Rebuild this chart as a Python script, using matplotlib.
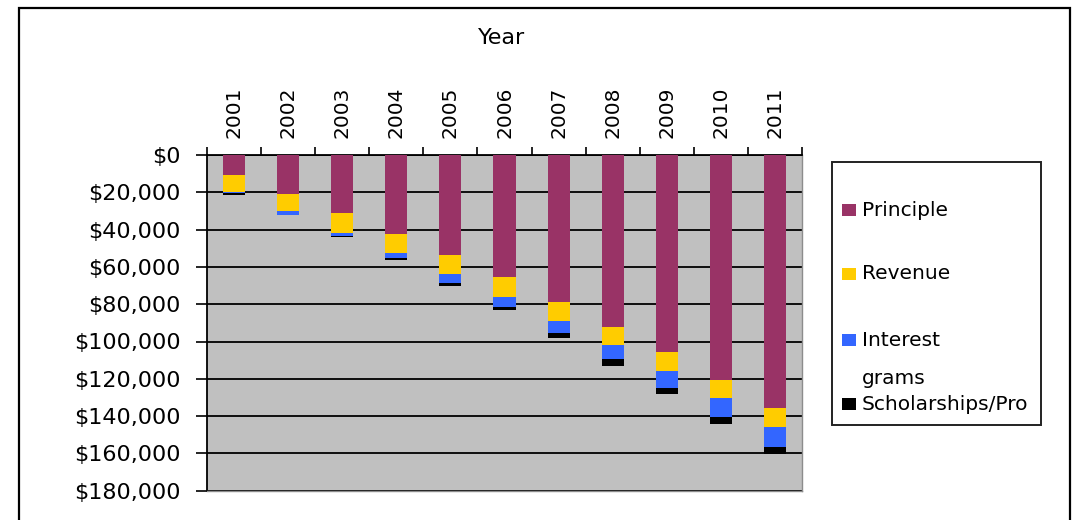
import matplotlib
matplotlib.use("Agg")
import matplotlib.pyplot as plt
from matplotlib.patches import Rectangle
from matplotlib.ticker import FuncFormatter, FixedLocator
import numpy as np

years = ["2001", "2002", "2003", "2004", "2005", "2006", "2007", "2008", "2009", "2010", "2011"]
principle = [10600, 20900, 31100, 42600, 53600, 65600, 79000, 92100, 105800, 120800, 135800]
revenue = [9400, 9300, 10600, 10200, 10400, 10400, 10200, 10000, 10200, 9300, 10200]
interest = [600, 1800, 1600, 2300, 4500, 5400, 6400, 7500, 8800, 10200, 10400]
scholarships = [700, 300, 900, 1300, 1800, 1800, 2700, 3600, 3600, 3900, 3900]

series_names = ["Principle", "Revenue", "Interest", "Scholarships/Pro"]
series_colors = ["#993366", "#FFCC00", "#3366FF", "#000000"]
y_ticks = list(range(0, 180001, 20000))
x_title = "Year"

W, H = 1078, 520
fig = plt.figure(figsize=(W / 100, H / 100), dpi=100)
fig.patch.set_facecolor("white")

# outer chart frame
fig.patches.append(Rectangle((19 / W, -0.1), (1070 - 19) / W, 1.1 - 8 / H,
                             transform=fig.transFigure, fill=False,
                             edgecolor="black", linewidth=1.6))

left, right = 207 / W, 802 / W
top, bottom = 1 - 155 / H, 1 - 490.7 / H
ax = fig.add_axes([left, bottom, right - left, top - bottom])
ax.set_facecolor("#C0C0C0")

x = np.arange(len(years))
data = [principle, revenue, interest, scholarships]
base = np.zeros(len(years))
for vals, col, name in zip(data, series_colors, series_names):
    ax.bar(x, vals, bottom=base, width=0.41, color=col, edgecolor="none",
           zorder=3, label=name)
    base = base + np.array(vals)

ax.set_xlim(-0.5, len(years) - 0.5)
ax.set_ylim(180000, 0)

ax.set_yticks(y_ticks)
ax.yaxis.set_major_formatter(FuncFormatter(lambda v, p: "${:,.0f}".format(v)))
ax.tick_params(axis="y", direction="out", length=8, width=1.2, pad=11,
               labelsize=16, colors="black")
ax.yaxis.grid(True, color="black", linewidth=1.3, zorder=1)
ax.set_axisbelow(True)

ax.xaxis.tick_top()
ax.set_xticks(x)
ax.set_xticklabels(years, rotation=90, fontsize=14.5)
ax.tick_params(axis="x", which="major", length=0, pad=12)
ax.xaxis.set_minor_locator(FixedLocator(np.arange(-0.5, len(years), 1.0)))
ax.tick_params(axis="x", which="minor", direction="out", length=6, width=1.2,
               top=True, bottom=False)

ax.spines["left"].set_color("black")
ax.spines["left"].set_linewidth(1.3)
ax.spines["top"].set_color("black")
ax.spines["top"].set_linewidth(1.3)
ax.spines["right"].set_color("#8C8C8C")
ax.spines["bottom"].set_color("#8C8C8C")
ax.spines["right"].set_linewidth(1.0)
ax.spines["bottom"].set_linewidth(1.0)

fig.text(502 / W, 1 - 38 / H, x_title, ha="center", va="center", fontsize=16)

# legend box drawn manually
fig.patches.append(Rectangle((832 / W, 1 - 425 / H), (1041 - 832) / W, (425 - 162) / H,
                             transform=fig.transFigure, fill=False,
                             edgecolor="#222222", linewidth=1.4))
entry_y = [210, 273.5, 340, 404]
for name, col, yy in zip(series_names, series_colors, entry_y):
    fig.patches.append(Rectangle((842 / W, 1 - (yy + 6) / H), 14 / W, 12 / H,
                                 transform=fig.transFigure, facecolor=col,
                                 edgecolor="none"))
    fig.text(862 / W, 1 - yy / H, name, ha="left", va="center", fontsize=14.5)
fig.text(862 / W, 1 - 378 / H, "grams", ha="left", va="center", fontsize=14.5)

fig.savefig("out.png", dpi=100)
